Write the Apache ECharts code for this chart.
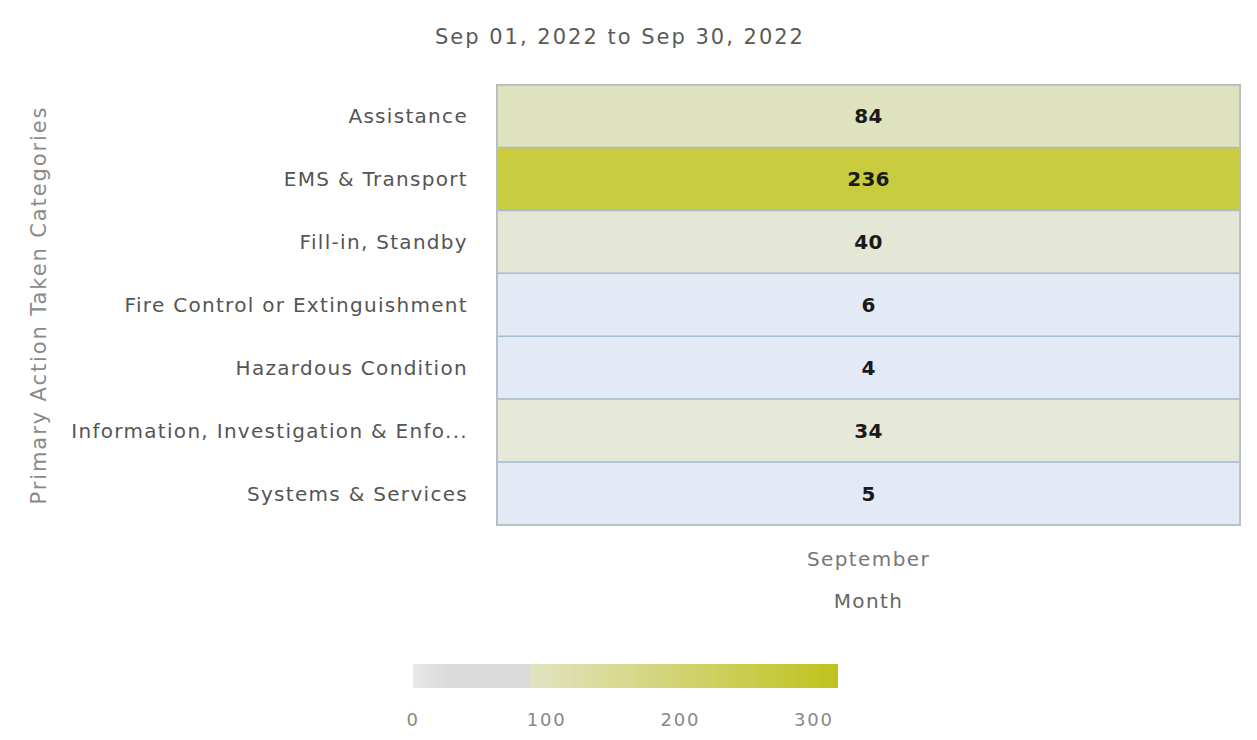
<!DOCTYPE html>
<html>
<head>
<meta charset="utf-8">
<script src="https://cdn.jsdelivr.net/npm/echarts@6/dist/echarts.min.js"></script>
<style>
  html, body { margin: 0; padding: 0; background: #ffffff; }
  #chart { width: 1257px; height: 740px; }
</style>
</head>
<body>
<div id="chart"></div>
<script>
// Incident counts by primary action taken, September 2022
const months = ['September'];
const categories = [
  'Assistance',
  'EMS & Transport',
  'Fill-in, Standby',
  'Fire Control or Extinguishment',
  'Hazardous Condition',
  'Information, Investigation & Enfo...',
  'Systems & Services'
];
const counts = [84, 236, 40, 6, 4, 34, 5];
const legendTicks = [0, 100, 200, 300];

const TITLE = 'Sep 01, 2022 to Sep 30, 2022';
const Y_NAME = 'Primary Action Taken Categories';
const X_NAME = 'Month';
const FONT = 'DejaVu Sans';

// colour ramp for the cells: pale blue near zero, warming to olive at the top of the range
function hex(c) { return [1, 3, 5].map(i => parseInt(c.slice(i, i + 2), 16)); }
function mix(a, b, t) {
  const A = hex(a), B = hex(b);
  return '#' + A.map((v, i) => Math.round(v + (B[i] - v) * t).toString(16).padStart(2, '0')).join('');
}
const anchors = [[0, '#e3eaf5'], [10, '#e3eaf5'], [25, '#e6e8da'], [45, '#e5e7d5'],
                 [84, '#dfe2bf'], [236, '#c9cc3e'], [300, '#c2c420']];
function rampAt(v) {
  for (let i = 1; i < anchors.length; i++) {
    if (v <= anchors[i][0]) {
      const [v0, c0] = anchors[i - 1], [v1, c1] = anchors[i];
      return mix(c0, c1, (v - v0) / (v1 - v0));
    }
  }
  return anchors[anchors.length - 1][1];
}
const ramp = [];
for (let v = 0; v <= 300; v += 5) ramp.push(rampAt(v));

const heatData = counts.map((v, i) => [0, i, v]);
const legendMax = 318;

const chart = echarts.init(document.getElementById('chart'), null, { renderer: 'svg' });
chart.setOption({
  backgroundColor: '#ffffff',
  animation: false,
  title: {
    text: TITLE,
    left: 430,
    top: 21,
    textStyle: { fontFamily: FONT, fontSize: 21, fontWeight: 'normal', color: '#5a5a5a' }
  },
  grid: [
    { left: 497, right: 17, top: 85, height: 440, containLabel: false },
    { left: 413, width: 425, top: 664, height: 24, containLabel: false }
  ],
  xAxis: [
    {
      type: 'category',
      gridIndex: 0,
      data: months,
      name: X_NAME,
      nameLocation: 'middle',
      nameGap: 66,
      nameTextStyle: { fontFamily: FONT, fontSize: 20, color: '#666666' },
      axisLine: { show: false },
      axisTick: { show: false },
      splitLine: { show: false },
      axisLabel: { fontFamily: FONT, fontSize: 20, color: '#777777', margin: 24 }
    },
    {
      type: 'value',
      gridIndex: 1,
      min: 0,
      max: legendMax,
      interval: 100,
      axisLine: { show: false },
      axisTick: { show: false },
      splitLine: { show: false },
      axisLabel: { fontFamily: FONT, fontSize: 18, color: '#888888', margin: 22, showMaxLabel: false }
    }
  ],
  yAxis: [
    {
      type: 'category',
      gridIndex: 0,
      data: categories,
      inverse: true,
      name: Y_NAME,
      nameLocation: 'middle',
      nameGap: 448,
      nameRotate: 90,
      nameTextStyle: { fontFamily: FONT, fontSize: 21, color: '#8a8a8a' },
      axisLine: { show: false },
      axisTick: { show: false },
      splitLine: { show: false },
      axisLabel: { fontFamily: FONT, fontSize: 20, color: '#555555', margin: 29 }
    },
    {
      type: 'category',
      gridIndex: 1,
      data: [''],
      show: false
    }
  ],
  visualMap: {
    show: false,
    type: 'continuous',
    seriesIndex: 0,
    dimension: 2,
    min: 0,
    max: 300,
    inRange: { color: ramp }
  },
  series: [
    {
      type: 'heatmap',
      xAxisIndex: 0,
      yAxisIndex: 0,
      data: heatData,
      itemStyle: { borderColor: '#a8bcd0', borderWidth: 1.5 },
      label: {
        show: true,
        fontFamily: FONT,
        fontSize: 20,
        fontWeight: 'bold',
        color: '#1a1a1a',
        formatter: p => String(p.value[2])
      }
    },
    {
      // colour-scale legend bar across the full value range
      type: 'bar',
      xAxisIndex: 1,
      yAxisIndex: 1,
      data: [legendMax],
      barWidth: 24,
      silent: true,
      itemStyle: {
        color: new echarts.graphic.LinearGradient(0, 0, 1, 0, [
          { offset: 0, color: '#e8e8e8' },
          { offset: 0.08, color: '#dbdbdb' },
          { offset: 0.274, color: '#dadada' },
          { offset: 0.276, color: '#e1e3c2' },
          { offset: 1, color: '#c0c21c' }
        ])
      }
    }
  ],
  graphic: [
    {
      type: 'rect',
      shape: { x: 497, y: 85, width: 743, height: 440 },
      style: { fill: 'none', stroke: '#bdbdbd', lineWidth: 1.5 },
      z: 10
    }
  ]
});

// widen the tracking of the text to the airy look of the report font
const spacing = new Map();
spacing.set(TITLE, 2);
spacing.set(Y_NAME, 1.9);
spacing.set(X_NAME, 1.4);
months.forEach(m => spacing.set(m, 1.4));
categories.forEach(c => spacing.set(c, 1.3));
counts.forEach(c => spacing.set(String(c), 0.3));
legendTicks.forEach(t => spacing.set(String(t), 1.8));
function applySpacing() {
  document.querySelectorAll('#chart svg text').forEach(t => {
    const s = spacing.get(t.textContent);
    if (s !== undefined) t.style.letterSpacing = s + 'px';
  });
}
applySpacing();
chart.on('finished', applySpacing);
</script>
</body>
</html>
